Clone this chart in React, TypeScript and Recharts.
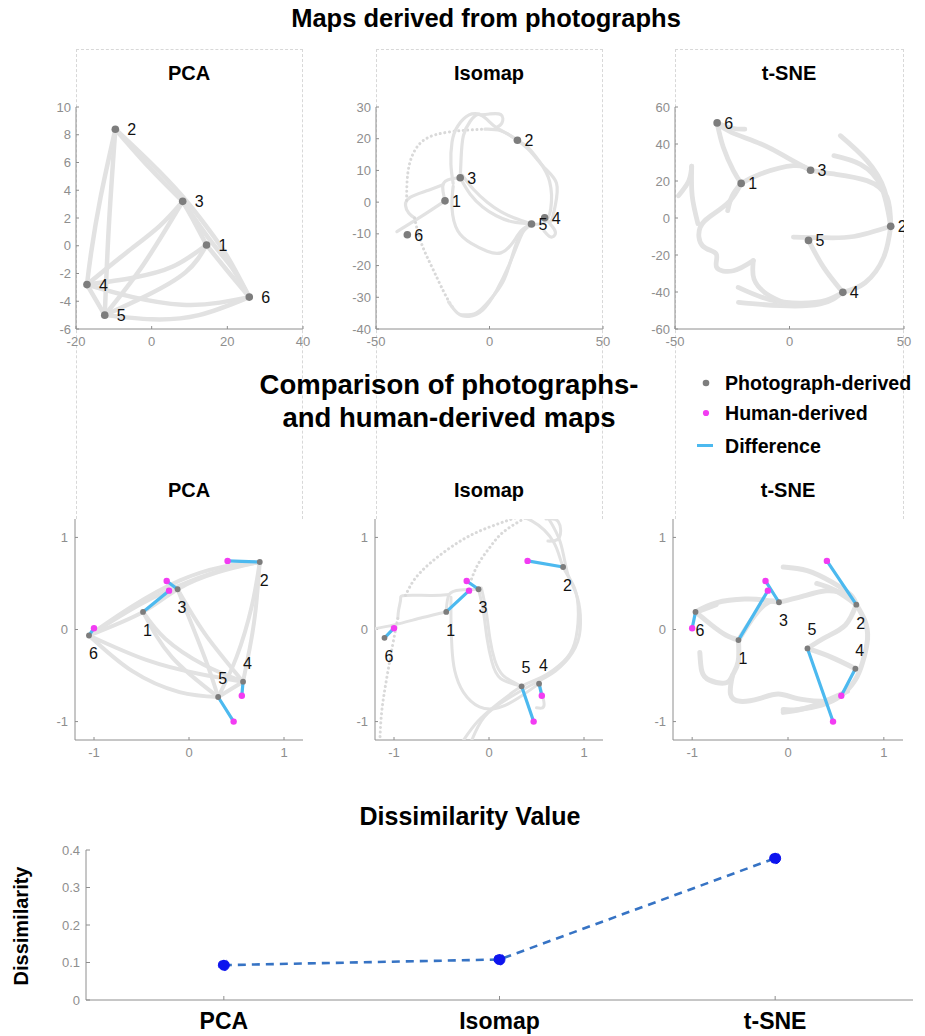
import { ScatterChart, Scatter, LineChart, Line, XAxis, YAxis } from 'recharts';

const FONT = '"Liberation Sans", Arial, Helvetica, sans-serif';
const AXIS = '#8e8e8e';
const TRAIL = '#e2e2e2';
const NODE = '#7d7d7d';
const HUMAN = '#f23cf2';
const DIFF = '#4cb9ef';

type XY = [number, number];
type Trail = { pts: XY[]; dotted?: boolean };

// ---------- photograph-derived maps (raw embedding units), nodes listed as ids 1..6 ----------
const pcaNodes: XY[] = [[14.5, 0.05], [-9.6, 8.4], [8.2, 3.2], [-17.1, -2.8], [-12.4, -5.0], [25.8, -3.7]];
const isoNodes: XY[] = [[-19.6, 0.4], [12.3, 19.5], [-12.9, 7.7], [24.3, -4.9], [18.5, -6.9], [-36.2, -10.3]];
const tsneNodes: XY[] = [[-21.1, 18.7], [44.2, -4.5], [9.2, 25.8], [23.3, -40.2], [8.3, -12.1], [-31.6, 51.4]];

const pcaTrails: Trail[] = [
  { pts: [[-9.6, 8.4], [-0.5, 5.6], [8.2, 3.2]] },
  { pts: [[-9.6, 8.4], [0, 5.9], [8, 3.6], [15, 1.2], [20.5, -1], [25.8, -3.7]] },
  { pts: [[8.2, 3.2], [11.5, 1.6], [14.5, 0.05]] },
  { pts: [[14.5, 0.05], [20, -1.8], [25.8, -3.7]] },
  { pts: [[8.2, 3.2], [16, 0.2], [21, -1.5], [25.8, -3.7]] },
  { pts: [[-9.6, 8.4], [-13.5, 3.5], [-16, -0.5], [-17.1, -2.8]] },
  { pts: [[-9.6, 8.4], [-11.3, 1.5], [-12.4, -5.0]] },
  { pts: [[-17.1, -2.8], [-6.7, -0.5], [2, 1.4], [8.2, 3.2]] },
  { pts: [[-12.4, -5.0], [-2.3, -1.4], [8.2, 3.2]] },
  { pts: [[-17.1, -2.8], [-4.9, -2.3], [5.6, -1.5], [14.5, 0.05]] },
  { pts: [[-12.4, -5.0], [-1.4, -3.6], [9, -1.9], [14.5, 0.05]] },
  { pts: [[-17.1, -2.8], [-5, -3.7], [8, -4.25], [18, -4.1], [25.8, -3.7]] },
  { pts: [[-12.4, -5.0], [0, -5.3], [12.5, -5.0], [25.8, -3.7]] },
  { pts: [[-17.1, -2.8], [-12.4, -5.0]] },
];

const isoTrails: Trail[] = [
  { pts: [[-19.6, 0.4], [-30, -4.5], [-40.8, -9.3]] },
  { pts: [[-19.6, 0.4], [-20.5, 5.5], [-17, 7.3], [-12.9, 7.7]] },
  { pts: [[-20.5, 5.5], [-28, 3.5], [-35, 1.5], [-37, -1], [-35.5, -3.5], [-33, -5]] },
  { pts: [[-33, -5], [-30, -13], [-25, -21], [-20, -28.5], [-16, -33.5]], dotted: true },
  { pts: [[-18, -31.5], [-14, -35], [-9, -36], [-3, -34], [3, -28], [8.5, -20], [12.5, -13], [15.5, -8.5], [18.5, -6.9]] },
  { pts: [[-13, -35.5], [-6, -35], [0, -31], [6, -25], [10, -17], [13.5, -10.5], [18.5, -6.9]] },
  { pts: [[-36.5, 0.5], [-36, 9], [-33.5, 15.5], [-28, 20], [-19, 22], [-10, 22.7], [-2, 23]], dotted: true },
  { pts: [[-2, 23], [5, 22.5], [12.3, 19.5]] },
  { pts: [[-12.9, 7.7], [-12.5, 14], [-11.5, 21], [-8.5, 25.5], [-5, 27.7], [-1, 26], [3, 23.5], [8, 21.5], [12.3, 19.5]] },
  { pts: [[-4, 27.5], [0, 27.8], [5, 27.6], [5.5, 25], [3, 23.5]] },
  { pts: [[-16, 5.9], [-17, 12], [-16.5, 19], [-14, 24], [-9, 27.5], [-4.5, 27.8]] },
  { pts: [[-12.9, 7.7], [-8.5, 2.5], [-3, -1.5], [3, -4.3], [10, -6.2], [18.5, -6.9]] },
  { pts: [[-12, 8.5], [-7, 4], [-1, 0], [5, -3], [11, -5], [18.5, -6.9]] },
  { pts: [[-16, 5], [-16.5, -2], [-14, -9], [-8, -13], [-1, -15.5], [5, -16], [10, -13], [14, -9], [18.5, -6.9]] },
  { pts: [[12.3, 19.5], [18, 16], [24, 11], [29.5, 6], [29, -1], [27, -6], [24.3, -4.9]] },
  { pts: [[12.3, 19.5], [17, 17.2], [22, 12.8], [26.5, 6.5], [27, -2], [24, -6.5], [18.5, -6.9]] },
  { pts: [[24.3, -4.9], [28, -8], [29, -10], [27, -11], [24, -9]] },
];

const tsneTrails: Trail[] = [
  { pts: [[-31.6, 51.4], [-28.9, 38.2], [-24.5, 25.6], [-21.1, 18.7]] },
  { pts: [[-31.6, 51.4], [-25.4, 46.3], [-12.4, 40], [-1.2, 32.8], [9.2, 25.8]] },
  { pts: [[-31.6, 51.4], [-25, 48.5], [-19.5, 48]] },
  { pts: [[-21.1, 18.7], [-12.7, 23.8], [1.7, 28.3], [9.2, 25.8]] },
  { pts: [[9.2, 25.8], [19.4, 23.8], [33.8, 20.2], [42.6, 11.2], [44.2, -4.5]] },
  { pts: [[22.2, 44.5], [33.8, 31], [41.5, 15], [44.2, -4.5]] },
  { pts: [[19.4, 33.7], [31, 29], [40, 17], [44.2, -4.5]] },
  { pts: [[44.2, -4.5], [28, -10], [14, -10.6], [1.7, -10.3]] },
  { pts: [[8.3, -12.1], [14.9, -26.7], [23.3, -40.2]] },
  { pts: [[44.2, -4.5], [41.1, -21.3], [33, -35], [23.3, -40.2]] },
  { pts: [[23.3, -40.2], [13.4, -46.5], [-4.1, -47.4], [-22.3, -45.6]] },
  { pts: [[-22.4, -37.5], [-9, -44], [5, -46], [16, -44.5], [23.3, -40.2]] },
  { pts: [[-21.1, 18.7], [-25.9, 9.4], [-33.2, 2.2], [-39, -5], [-38, -15], [-32, -19.5], [-31.8, -26.7], [-24.5, -28.5], [-15.8, -23]] },
  { pts: [[-15.8, -23], [-15.5, -33], [-10, -41], [-2, -46]] },
  { pts: [[-48.5, 12], [-44, 20], [-42.7, 28]] },
  { pts: [[-42.7, 28], [-42.5, 12], [-40, -3]] },
  { pts: [[-21.1, 18.7], [-25, 12], [-27, 4]] },
];

// ---------- normalised maps compared with the human-derived map ----------
const humanNodes: XY[] = [[-0.21, 0.422], [0.406, 0.745], [-0.235, 0.527], [0.556, -0.72], [0.47, -1.0], [-1.0, 0.014]];
const pcaNormNodes: XY[] = [[-0.484, 0.191], [0.745, 0.733], [-0.12, 0.437], [0.569, -0.567], [0.307, -0.733], [-1.053, -0.065]];
const isoNormNodes: XY[] = [[-0.45, 0.191], [0.78, 0.679], [-0.11, 0.437], [0.527, -0.588], [0.343, -0.617], [-1.1, -0.09]];
const tsneNormNodes: XY[] = [[-0.517, -0.115], [0.713, 0.27], [-0.094, 0.296], [0.703, -0.426], [0.203, -0.206], [-0.965, 0.191]];

const pcaNormTrails: Trail[] = [
  { pts: [[-1.053, -0.065], [-0.6, 0.25], [-0.1, 0.53], [0.35, 0.68], [0.745, 0.733]] },
  { pts: [[-1.053, -0.065], [-0.484, 0.191], [-0.12, 0.437], [0.3, 0.62], [0.745, 0.733]] },
  { pts: [[-1.053, -0.065], [-0.5, 0.28], [0, 0.52], [0.4, 0.66], [0.745, 0.733]] },
  { pts: [[0.745, 0.733], [0.7, 0.2], [0.64, -0.2], [0.569, -0.567]] },
  { pts: [[0.745, 0.733], [0.66, 0.25], [0.5, -0.3], [0.307, -0.733]] },
  { pts: [[-1.053, -0.065], [-0.45, -0.33], [0.1, -0.48], [0.569, -0.567]] },
  { pts: [[-1.053, -0.065], [-0.6, -0.45], [-0.1, -0.68], [0.307, -0.733]] },
  { pts: [[-0.484, 0.191], [-0.25, -0.1], [0.15, -0.38], [0.569, -0.567]] },
  { pts: [[-0.484, 0.191], [-0.18, -0.3], [0.307, -0.733]] },
  { pts: [[-0.12, 0.437], [0.05, 0], [0.2, -0.4], [0.307, -0.733]] },
  { pts: [[-0.12, 0.437], [0.17, -0.05], [0.569, -0.567]] },
  { pts: [[0.569, -0.567], [0.307, -0.733]] },
];

const isoNormTrails: Trail[] = [
  { pts: [[-1.25, 0], [-1.0, 0.05], [-0.7, 0.13], [-0.45, 0.191]] },
  { pts: [[-0.45, 0.191], [-0.42, 0.38], [-0.3, 0.43], [-0.11, 0.437]] },
  { pts: [[-0.42, 0.38], [-0.6, 0.37], [-0.88, 0.37], [-0.93, 0.33], [-0.95, 0.22], [-0.96, 0.12]] },
  { pts: [[-0.88, 0.37], [-0.78, 0.55], [-0.62, 0.72], [-0.42, 0.88], [-0.2, 1.02], [0.05, 1.13], [0.3, 1.22]], dotted: true },
  { pts: [[-0.2, 0.5], [-0.12, 0.7], [0, 0.88], [0.12, 1.03], [0.28, 1.15], [0.45, 1.25]], dotted: true },
  { pts: [[-0.11, 0.437], [-0.06, 0.2], [-0.02, -0.1], [0.03, -0.35], [0.12, -0.53], [0.343, -0.617]] },
  { pts: [[-0.08, 0.45], [-0.03, 0.2], [0.01, -0.1], [0.06, -0.33], [0.15, -0.5], [0.343, -0.617]] },
  { pts: [[-0.4, 0.35], [-0.4, 0.1], [-0.39, -0.2], [-0.36, -0.45], [-0.27, -0.68], [-0.1, -0.84], [0.1, -0.85], [0.3, -0.75], [0.527, -0.588]] },
  { pts: [[0.2, 1.25], [0.45, 1.18], [0.68, 0.95], [0.78, 0.679], [0.9, 0.45], [0.94, 0.15], [0.9, -0.15], [0.78, -0.35], [0.55, -0.52], [0.343, -0.617], [0.1, -0.8], [-0.12, -1.0], [-0.3, -1.25]] },
  { pts: [[0.6, 1.25], [0.75, 0.95], [0.83, 0.6], [0.93, 0.35], [0.96, 0], [0.88, -0.25], [0.7, -0.45], [0.45, -0.6], [0.2, -0.75], [-0.05, -0.95], [-0.2, -1.25]] },
  { pts: [[0.6, 1.2], [0.73, 1.17], [0.74, 1.0], [0.62, 0.96]] },
  { pts: [[-0.96, 0.12], [-1.02, -0.2], [-1.08, -0.55], [-1.13, -0.9], [-1.15, -1.25]], dotted: true },
  { pts: [[0.527, -0.588], [0.58, -0.82], [0.5, -0.85]] },
];

const tsneNormTrails: Trail[] = [
  { pts: [[-0.965, 0.191], [-0.8, 0.05], [-0.65, -0.06], [-0.517, -0.115]] },
  { pts: [[-0.965, 0.191], [-0.75, 0.29], [-0.45, 0.33], [-0.25, 0.32], [-0.094, 0.296]] },
  { pts: [[-0.93, 0.2], [-0.75, 0.27]] },
  { pts: [[-0.517, -0.115], [-0.35, 0.15], [-0.2, 0.3], [-0.094, 0.296]] },
  { pts: [[-0.094, 0.296], [0.15, 0.36], [0.4, 0.42], [0.6, 0.38], [0.713, 0.27]] },
  { pts: [[-0.05, 0.68], [0.2, 0.64], [0.45, 0.52], [0.65, 0.38], [0.713, 0.27]] },
  { pts: [[0.3, 0.5], [0.5, 0.42], [0.713, 0.27]] },
  { pts: [[0.713, 0.27], [0.8, 0.1], [0.83, -0.1], [0.78, -0.35], [0.7, -0.55], [0.55, -0.72], [0.35, -0.82], [0.1, -0.87], [-0.05, -0.87]] },
  { pts: [[0.203, -0.206], [0.4, -0.08], [0.6, 0.05], [0.713, 0.27]] },
  { pts: [[0.203, -0.206], [0.45, -0.3], [0.703, -0.426]] },
  { pts: [[-0.92, -0.25], [-0.9, -0.45], [-0.82, -0.55], [-0.65, -0.58], [-0.58, -0.5], [-0.52, -0.35], [-0.517, -0.115]] },
  { pts: [[-0.58, -0.5], [-0.6, -0.7], [-0.5, -0.78], [-0.3, -0.75], [-0.1, -0.7], [0.1, -0.75], [0.35, -0.78]] },
  { pts: [[-0.05, -0.9], [0.2, -0.85], [0.45, -0.75], [0.62, -0.67]] },
];

// ---------- dissimilarity summary ----------
const categories = ['PCA', 'Isomap', 't-SNE'];
const dissimilarity = [0.093, 0.108, 0.378];
const dissimilarityTicks = [0, 0.1, 0.2, 0.3, 0.4];

const toPoints = (list: XY[]) => list.map(([x, y], i) => ({ x, y, id: i + 1 }));

type Plot = { x: number; y: number; w: number; h: number };

type MapPanelProps = {
  plot: Plot;
  xDomain: [number, number];
  yDomain: [number, number];
  xTicks: number[];
  yTicks: number[];
  trails: Trail[];
  trailWidth: number;
  nodes: XY[];
  human?: XY[];
  labelDx: number;
  nodeR: number;
  xTickMargin: number;
  yTickMargin: number;
};

function MapPanel(props: MapPanelProps) {
  const { plot, xDomain, yDomain, xTicks, yTicks, trails, trailWidth, nodes, human, labelDx, nodeR } = props;
  const YW = 44;
  const XH = 30;
  const MT = 12;
  const MR = 16;
  const photo = toPoints(nodes);
  const humanPts = human ? toPoints(human) : [];
  const tickStyle = { fill: AXIS, fontSize: 13, fontFamily: FONT };

  const nodeShape = (p: any) => {
    const id = p.payload.id;
    if (human) {
      const above = id === 4 || id === 5;
      return (
        <g>
          <circle cx={p.cx} cy={p.cy} r={nodeR} fill={NODE} />
          <text x={p.cx} y={p.cy + (above ? -18.5 : 18.5)} dominantBaseline="central" fontSize={16} fontFamily={FONT} fill="#111">
            {id}
          </text>
        </g>
      );
    }
    return (
      <g>
        <circle cx={p.cx} cy={p.cy} r={nodeR} fill={NODE} />
        <text x={p.cx + labelDx} y={p.cy + 0.5} dominantBaseline="central" fontSize={16} fontFamily={FONT} fill="#111">
          {id}
        </text>
      </g>
    );
  };

  return (
    <div style={{ position: 'absolute', left: plot.x - YW, top: plot.y - MT }}>
      <ScatterChart width={plot.w + YW + MR} height={plot.h + MT + XH} margin={{ top: MT, right: MR, bottom: 0, left: 0 }}>
        <XAxis xAxisId="b" type="number" dataKey="x" domain={xDomain} ticks={xTicks} interval={0} allowDataOverflow
          height={XH} stroke={AXIS} tickSize={-3} tickMargin={props.xTickMargin} tick={tickStyle} />
        <XAxis xAxisId="t" orientation="top" type="number" dataKey="x" domain={xDomain} ticks={xTicks} interval={0}
          allowDataOverflow height={0} stroke={AXIS} tickSize={-3} tick={false} />
        <YAxis yAxisId="l" type="number" dataKey="y" domain={yDomain} ticks={yTicks} interval={0} allowDataOverflow
          width={YW} stroke={AXIS} tickSize={-3} tickMargin={props.yTickMargin} tick={tickStyle} />
        <YAxis yAxisId="r" orientation="right" type="number" dataKey="y" domain={yDomain} ticks={yTicks} interval={0}
          allowDataOverflow width={0} stroke={AXIS} tickSize={-3} tick={false} />

        {/* frame axes need a series of their own */}
        <Scatter xAxisId="t" yAxisId="r" data={[{ x: xDomain[0], y: yDomain[0] }, { x: xDomain[1], y: yDomain[1] }]}
          shape={() => <g />} isAnimationActive={false} legendType="none" />

        {trails.map((t, i) => (
          <Scatter
            key={`trail-${i}`}
            xAxisId="b"
            yAxisId="l"
            data={t.pts.map(([x, y]) => ({ x, y }))}
            line={{
              stroke: t.dotted ? '#d9d9d9' : TRAIL,
              strokeWidth: t.dotted ? 3 : trailWidth,
              strokeLinecap: 'round',
              strokeLinejoin: 'round',
              strokeDasharray: t.dotted ? '0.1 4.5' : undefined,
            }}
            lineJointType="natural"
            shape={() => <g />}
            isAnimationActive={false}
            legendType="none"
          />
        ))}

        {human &&
          photo.map((p, i) => (
            <Scatter
              key={`diff-${i}`}
              xAxisId="b"
              yAxisId="l"
              data={[{ x: p.x, y: p.y }, { x: humanPts[i].x, y: humanPts[i].y }]}
              line={{ stroke: DIFF, strokeWidth: 3.2, strokeLinecap: 'round' }}
              shape={() => <g />}
              isAnimationActive={false}
              legendType="none"
            />
          ))}

        {human && (
          <Scatter xAxisId="b" yAxisId="l" data={humanPts}
            shape={(p: any) => <circle cx={p.cx} cy={p.cy} r={3.2} fill={HUMAN} />}
            isAnimationActive={false} legendType="none" />
        )}

        <Scatter xAxisId="b" yAxisId="l" data={photo} shape={nodeShape} isAnimationActive={false} legendType="none" />
      </ScatterChart>
    </div>
  );
}

function Title({ x, y, size, lineHeight = 1.3, children }: { x: number; y: number; size: number; lineHeight?: number | string; children: any }) {
  return (
    <div
      style={{
        position: 'absolute',
        left: x,
        top: y,
        transform: 'translate(-50%, -50%)',
        fontFamily: FONT,
        fontWeight: 700,
        fontSize: size,
        lineHeight,
        textAlign: 'center',
        whiteSpace: 'nowrap',
        color: '#000',
      }}
    >
      {children}
    </div>
  );
}

const topCols = [
  { x: 76, w: 227 },
  { x: 376, w: 227 },
  { x: 675, w: 229 },
];

function DissimilarityChart() {
  const data = categories.map((name, i) => ({ pos: i + 1, name, value: dissimilarity[i] }));
  const tick = { fill: AXIS, fontSize: 13, fontFamily: FONT };
  return (
    <div style={{ position: 'absolute', left: 0, top: 840 }}>
      <LineChart width={925} height={196} data={data} margin={{ top: 10, right: 12, bottom: 0, left: 0 }}>
        <XAxis xAxisId="b" type="number" dataKey="pos" domain={[0.5, 3.5]} ticks={[1, 2, 3]} interval={0}
          height={36} stroke={AXIS} tickSize={-4} tickMargin={17}
          tickFormatter={(v: number) => categories[v - 1]}
          tick={{ fill: '#000', fontSize: 23, fontWeight: 700, fontFamily: FONT }} />
        <XAxis xAxisId="t" orientation="top" type="number" dataKey="pos" domain={[0.5, 3.5]} ticks={[1, 2, 3]}
          interval={0} height={0} stroke={AXIS} tickSize={-4} tick={false} />
        <YAxis yAxisId="l" type="number" domain={[0, 0.4]} ticks={dissimilarityTicks} interval={0}
          width={86} stroke={AXIS} tickSize={-4} tickMargin={10} tick={tick} />
        <YAxis yAxisId="r" orientation="right" type="number" domain={[0, 0.4]} ticks={dissimilarityTicks} interval={0}
          width={0} stroke={AXIS} tickSize={-4} tick={false} />
        <Line xAxisId="t" yAxisId="r" dataKey="value" stroke="none" dot={false} isAnimationActive={false} legendType="none" />
        <Line
          xAxisId="b"
          yAxisId="l"
          dataKey="value"
          stroke="#3673c4"
          strokeWidth={2.6}
          strokeDasharray="8 6"
          dot={{ r: 5.5, fill: '#0d14ee', stroke: '#0d14ee', strokeWidth: 1 }}
          isAnimationActive={false}
        />
      </LineChart>
    </div>
  );
}

export default function App() {
  return (
    <div style={{ position: 'absolute', left: 0, top: 0, width: 925, height: 1036, background: '#fff', fontFamily: FONT }}>
      {topCols.map((c, i) => (
        <div
          key={i}
          style={{
            position: 'absolute',
            left: c.x,
            top: 49,
            width: c.w,
            height: 470,
            borderTop: '1px dashed #d8d8d8',
            borderLeft: '1px dashed #d8d8d8',
            borderRight: '1px dashed #d8d8d8',
            boxSizing: 'border-box',
          }}
        />
      ))}

      <Title x={486} y={19} size={25.5}>Maps derived from photographs</Title>
      <Title x={189} y={73} size={20}>PCA</Title>
      <Title x={489} y={73} size={20}>Isomap</Title>
      <Title x={789} y={73} size={20}>t-SNE</Title>

      <MapPanel plot={{ x: 76, y: 107, w: 227, h: 222 }} xDomain={[-20, 40]} yDomain={[-6, 10]}
        xTicks={[-20, 0, 20, 40]} yTicks={[-6, -4, -2, 0, 2, 4, 6, 8, 10]}
        trails={pcaTrails} trailWidth={4.5} nodes={pcaNodes} labelDx={12} nodeR={3.8} xTickMargin={11} yTickMargin={8} />
      <MapPanel plot={{ x: 376, y: 107, w: 227, h: 222 }} xDomain={[-50, 50]} yDomain={[-40, 30]}
        xTicks={[-50, 0, 50]} yTicks={[-40, -30, -20, -10, 0, 10, 20, 30]}
        trails={isoTrails} trailWidth={3.2} nodes={isoNodes} labelDx={7} nodeR={3.8} xTickMargin={11} yTickMargin={8} />
      <MapPanel plot={{ x: 675, y: 107, w: 229, h: 222 }} xDomain={[-50, 50]} yDomain={[-60, 60]}
        xTicks={[-50, 0, 50]} yTicks={[-60, -40, -20, 0, 20, 40, 60]}
        trails={tsneTrails} trailWidth={4.8} nodes={tsneNodes} labelDx={7} nodeR={3.8} xTickMargin={11} yTickMargin={8} />

      <Title x={449} y={401} size={27.5} lineHeight="33px">
        Comparison of photographs-
        <br />
        and human-derived maps
      </Title>

      <svg width={232} height={104} style={{ position: 'absolute', left: 690, top: 362 }}>
        <circle cx={16} cy={21} r={3.3} fill={NODE} />
        <text x={35} y={21} dominantBaseline="central" fontFamily={FONT} fontWeight={700} fontSize={19.6}>Photograph-derived</text>
        <circle cx={16} cy={51} r={3.1} fill={HUMAN} />
        <text x={35} y={51} dominantBaseline="central" fontFamily={FONT} fontWeight={700} fontSize={19.6}>Human-derived</text>
        <line x1={7} x2={23} y1={83.5} y2={83.5} stroke={DIFF} strokeWidth={3} />
        <text x={35} y={83.5} dominantBaseline="central" fontFamily={FONT} fontWeight={700} fontSize={19.6}>Difference</text>
      </svg>

      <Title x={189} y={490} size={20}>PCA</Title>
      <Title x={489} y={490} size={20}>Isomap</Title>
      <Title x={788} y={490} size={20}>t-SNE</Title>

      <MapPanel plot={{ x: 75, y: 519, w: 228, h: 221 }} xDomain={[-1.2, 1.2]} yDomain={[-1.2, 1.2]}
        xTicks={[-1, 0, 1]} yTicks={[-1, 0, 1]} trails={pcaNormTrails} trailWidth={4}
        nodes={pcaNormNodes} human={humanNodes} labelDx={0} nodeR={2.9} xTickMargin={11} yTickMargin={10} />
      <MapPanel plot={{ x: 375, y: 519, w: 228, h: 221 }} xDomain={[-1.2, 1.2]} yDomain={[-1.2, 1.2]}
        xTicks={[-1, 0, 1]} yTicks={[-1, 0, 1]} trails={isoNormTrails} trailWidth={3}
        nodes={isoNormNodes} human={humanNodes} labelDx={0} nodeR={2.9} xTickMargin={11} yTickMargin={10} />
      <MapPanel plot={{ x: 673, y: 519, w: 230, h: 221 }} xDomain={[-1.2, 1.2]} yDomain={[-1.2, 1.2]}
        xTicks={[-1, 0, 1]} yTicks={[-1, 0, 1]} trails={tsneNormTrails} trailWidth={5}
        nodes={tsneNormNodes} human={humanNodes} labelDx={0} nodeR={2.9} xTickMargin={11} yTickMargin={10} />

      <Title x={470} y={816} size={25}>Dissimilarity Value</Title>
      <div
        style={{
          position: 'absolute',
          left: 21,
          top: 926,
          transform: 'translate(-50%, -50%) rotate(-90deg)',
          fontFamily: FONT,
          fontWeight: 700,
          fontSize: 20,
          whiteSpace: 'nowrap',
        }}
      >
        Dissimilarity
      </div>
      <DissimilarityChart />
    </div>
  );
}
